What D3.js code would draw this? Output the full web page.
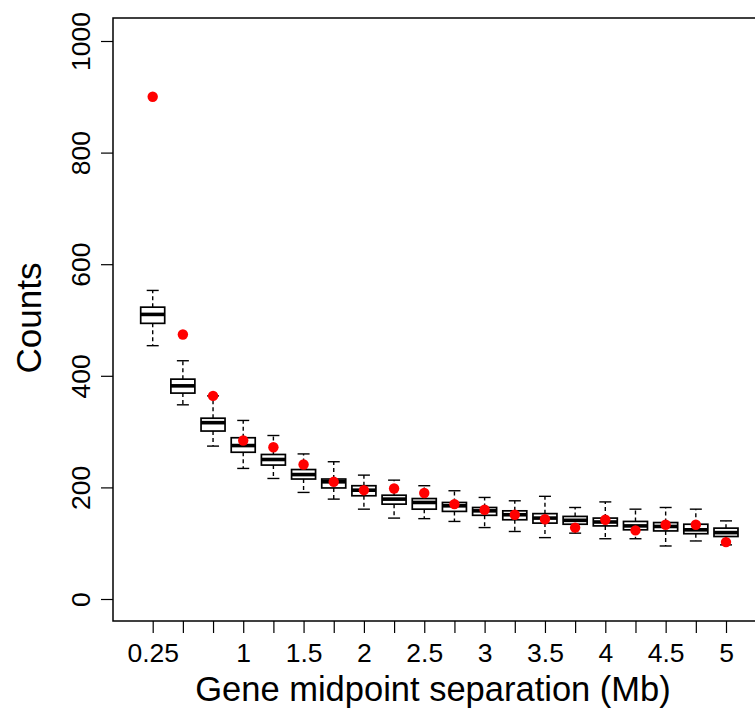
<!DOCTYPE html>
<html>
<head>
<meta charset="utf-8">
<script src="https://cdn.jsdelivr.net/npm/d3@7"></script>
<style>
  html, body { margin: 0; padding: 0; background: #fff; }
  svg { display: block; font-family: "Liberation Sans", Arial, Helvetica, sans-serif; }
</style>
</head>
<body>
<svg id="chart" width="755" height="718"></svg>
<script>
// Gene midpoint separation bins (Mb)
const separation = [0.25, 0.5, 0.75, 1, 1.25, 1.5, 1.75, 2, 2.25, 2.5,
                    2.75, 3, 3.25, 3.5, 3.75, 4, 4.25, 4.5, 4.75, 5];

// Simulated count distributions per bin (boxplot summaries)
const whiskerHigh = [553, 427, 364, 320, 293, 260, 246, 222, 213, 203,
                     194, 182, 176, 184, 164, 174, 161, 164, 161, 140];
const upperQuartile = [523, 394, 324, 289, 259, 232, 215, 203, 186, 180,
                       173, 164, 158, 153, 148, 145, 139, 137, 134, 127];
const medians = [510, 382, 316, 275, 250, 223, 210, 195, 179, 173,
                 167, 158, 151, 145, 141, 138, 131, 130, 124, 119];
const lowerQuartile = [494, 369, 301, 263, 240, 215, 199, 185, 170, 161,
                       157, 150, 142, 136, 134, 131, 124, 122, 117, 112];
const whiskerLow = [454, 348, 274, 234, 216, 191, 179, 161, 145, 144,
                    139, 128, 121, 110, 118, 108, 108, 95, 104, 97];

// Observed counts per bin
const observed = [900, 474, 364, 284, 272, 241, 210, 195, 198, 190,
                  170, 160, 151, 143, 128, 142, 123, 133, 133, 102];

// Axis ticks
const yTicks = [0, 200, 400, 600, 800, 1000];
const xTickLabels = ["0.25", "", "", "1", "", "1.5", "", "2", "", "2.5",
                     "", "3", "", "3.5", "", "4", "", "4.5", "", "5"];

const svg = d3.select("#chart");

const frame = { left: 113, top: 18, right: 767, bottom: 621 };

const x = d3.scaleLinear().domain([0.25, 5]).range([152.7, 726]);
const y = d3.scaleLinear().domain([0, 1000]).range([599, 41]);

const boxHalf = 12, capHalf = 6;

const data = separation.map((s, i) => ({
  s, hi: whiskerHigh[i], q3: upperQuartile[i], med: medians[i],
  q1: lowerQuartile[i], lo: whiskerLow[i], obs: observed[i]
}));

// Plot frame (right side runs past the page edge)
svg.append("rect")
  .attr("x", frame.left).attr("y", frame.top)
  .attr("width", frame.right - frame.left)
  .attr("height", frame.bottom - frame.top)
  .attr("fill", "none").attr("stroke", "#000").attr("stroke-width", 1.5);

// Y axis
const yAxis = d3.axisLeft(y).tickValues(yTicks).tickSize(12).tickFormat(d3.format("d"));
const gy = svg.append("g").attr("transform", `translate(${frame.left},0)`).call(yAxis);
gy.select(".domain").remove();
gy.selectAll(".tick line").attr("stroke", "#000").attr("stroke-width", 1.2);
gy.selectAll(".tick text")
  .attr("x", null).attr("dy", null)
  .attr("text-anchor", "middle")
  .attr("transform", "translate(-23,0) rotate(-90)")
  .attr("font-size", 26.5).attr("fill", "#000")
  .style("font-family", "Liberation Sans, Arial, sans-serif");

// X axis
const xAxis = d3.axisBottom(x).tickValues(separation).tickSize(12)
  .tickFormat((d, i) => xTickLabels[i]);
const gx = svg.append("g").attr("transform", `translate(0,${frame.bottom})`).call(xAxis);
gx.select(".domain").remove();
gx.selectAll(".tick line").attr("stroke", "#000").attr("stroke-width", 1.2);
gx.selectAll(".tick text")
  .attr("y", 41).attr("dy", null)
  .attr("font-size", 26.5).attr("fill", "#000")
  .style("font-family", "Liberation Sans, Arial, sans-serif");

// Boxplots
const boxes = svg.append("g");
const g = boxes.selectAll("g.box").data(data).join("g").attr("class", "box");

g.append("line") // upper whisker
  .attr("x1", d => x(d.s)).attr("x2", d => x(d.s))
  .attr("y1", d => y(d.q3)).attr("y2", d => y(d.hi))
  .attr("stroke", "#000").attr("stroke-width", 1.4).attr("stroke-dasharray", "4,3");
g.append("line") // lower whisker
  .attr("x1", d => x(d.s)).attr("x2", d => x(d.s))
  .attr("y1", d => y(d.q1)).attr("y2", d => y(d.lo))
  .attr("stroke", "#000").attr("stroke-width", 1.4).attr("stroke-dasharray", "4,3");
g.append("line") // upper cap
  .attr("x1", d => x(d.s) - capHalf).attr("x2", d => x(d.s) + capHalf)
  .attr("y1", d => y(d.hi)).attr("y2", d => y(d.hi))
  .attr("stroke", "#000").attr("stroke-width", 1.4);
g.append("line") // lower cap
  .attr("x1", d => x(d.s) - capHalf).attr("x2", d => x(d.s) + capHalf)
  .attr("y1", d => y(d.lo)).attr("y2", d => y(d.lo))
  .attr("stroke", "#000").attr("stroke-width", 1.4);
g.append("rect")
  .attr("x", d => x(d.s) - boxHalf).attr("width", boxHalf * 2)
  .attr("y", d => y(d.q3)).attr("height", d => y(d.q1) - y(d.q3))
  .attr("fill", "#fff").attr("stroke", "#000").attr("stroke-width", 1.7);
g.append("line") // median
  .attr("x1", d => x(d.s) - boxHalf).attr("x2", d => x(d.s) + boxHalf)
  .attr("y1", d => y(d.med)).attr("y2", d => y(d.med))
  .attr("stroke", "#000").attr("stroke-width", 3.6);

// Observed counts
svg.append("g").selectAll("circle").data(data).join("circle")
  .attr("cx", d => x(d.s)).attr("cy", d => y(d.obs)).attr("r", 5.2)
  .attr("fill", "#ff0000");

// Axis titles
svg.append("text")
  .attr("x", 433).attr("y", 701)
  .attr("text-anchor", "middle").attr("font-size", 34.5).attr("fill", "#000")
  .text("Gene midpoint separation (Mb)");

svg.append("text")
  .attr("transform", `translate(41,${(y(0) + y(1000)) / 2 - 2}) rotate(-90)`)
  .attr("text-anchor", "middle").attr("font-size", 35).attr("fill", "#000")
  .text("Counts");
</script>
</body>
</html>
